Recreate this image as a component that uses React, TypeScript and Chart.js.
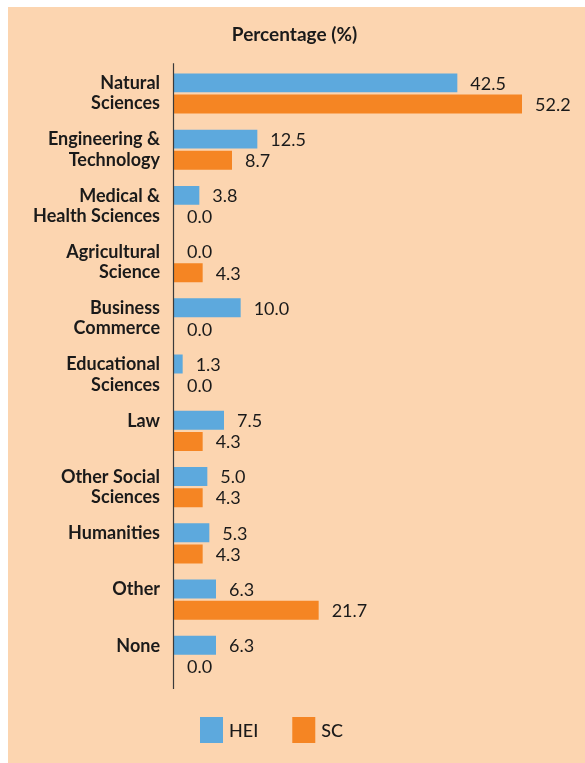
import React, { useEffect, useRef } from "react";
import { Chart, registerables } from "chart.js";

Chart.register(...registerables);

const categories: string[][] = [
  ["Natural", "Sciences"],
  ["Engineering &", "Technology"],
  ["Medical &", "Health Sciences"],
  ["Agricultural", "Science"],
  ["Business", "Commerce"],
  ["Educational", "Sciences"],
  ["Law", ""],
  ["Other Social", "Sciences"],
  ["Humanities", ""],
  ["Other", ""],
  ["None", ""],
];
const heiValues: number[] = [42.5, 12.5, 3.8, 0.0, 10.0, 1.3, 7.5, 5.0, 5.3, 6.3, 6.3];
const scValues: number[] = [52.2, 8.7, 0.0, 4.3, 0.0, 0.0, 4.3, 4.3, 4.3, 21.7, 0.0];
const seriesNames: string[] = ["HEI", "SC"];
const titleText = "Percentage (%)";
const xMax = 60;

const BG = "#FCD5B0";
const BLUE = "#5DA9DD";
const ORANGE = "#F58523";
const TEXT = "#1a1a1a";
const FONT = "Lato, 'Noto Sans', sans-serif";

const valueLabels = {
  id: "valueLabels",
  afterDatasetsDraw(chart: any) {
    const ctx = chart.ctx;
    ctx.save();
    ctx.font = `400 18px ${FONT}`;
    ctx.fillStyle = TEXT;
    ctx.textBaseline = "middle";
    ctx.textAlign = "left";
    chart.data.datasets.forEach((ds: any, i: number) => {
      const meta = chart.getDatasetMeta(i);
      meta.data.forEach((bar: any, j: number) => {
        const v = ds.data[j] as number;
        ctx.fillText(v.toFixed(1), bar.x + 13, bar.y + 1);
      });
    });
    ctx.restore();
  },
};

const axisLine = {
  id: "axisLine",
  afterDatasetsDraw(chart: any) {
    const ctx = chart.ctx;
    const x = chart.scales.x.getPixelForValue(0) - 0.5;
    const { top, bottom } = chart.chartArea;
    ctx.save();
    ctx.strokeStyle = "#3a3a3a";
    ctx.lineWidth = 1.2;
    ctx.beginPath();
    ctx.moveTo(x, top - 2);
    ctx.lineTo(x, bottom + 5);
    ctx.stroke();
    ctx.restore();
  },
};

const customLegend = {
  id: "customLegend",
  afterDraw(chart: any) {
    const ctx = chart.ctx;
    const { left, bottom } = chart.chartArea;
    ctx.save();
    ctx.font = `500 18px ${FONT}`;
    ctx.textBaseline = "middle";
    ctx.textAlign = "left";
    let x = left + 26;
    const y = bottom + 33;
    chart.data.datasets.forEach((ds: any) => {
      ctx.fillStyle = ds.backgroundColor;
      ctx.fillRect(x, y, 23, 26);
      ctx.fillStyle = TEXT;
      ctx.fillText(ds.label, x + 29, y + 14);
      x += 29 + ctx.measureText(ds.label).width + 34;
    });
    ctx.restore();
  },
};

export default function App() {
  const ref = useRef<HTMLCanvasElement | null>(null);

  useEffect(() => {
    if (!ref.current) return;
    const chart = new Chart(ref.current, {
      type: "bar",
      data: {
        labels: categories,
        datasets: [
          { label: seriesNames[0], data: heiValues, backgroundColor: BLUE },
          { label: seriesNames[1], data: scValues, backgroundColor: ORANGE },
        ],
      },
      options: {
        indexAxis: "y",
        responsive: false,
        animation: false,
        devicePixelRatio: 1,
        layout: { padding: { left: 7, right: 11, top: 0, bottom: 79 } },
        datasets: { bar: { categoryPercentage: 0.75, barPercentage: 0.9 } },
        scales: {
          x: { display: false, min: 0, max: xMax },
          y: {
            grid: { display: false, drawTicks: false },
            border: { display: false },
            ticks: {
              padding: 14,
              color: TEXT,
              font: { family: FONT, size: 18, weight: "bold", lineHeight: 1.13 },
            },
            afterFit(scale: any) {
              scale.width = 159;
            },
          },
        },
        plugins: {
          legend: { display: false },
          tooltip: { enabled: false },
          title: {
            display: true,
            text: titleText,
            color: TEXT,
            font: { family: FONT, size: 19, weight: "bold", lineHeight: 1.2 },
            padding: { top: 16.5, bottom: 19 },
          },
        },
      },
      plugins: [valueLabels, axisLine, customLegend],
    });
    return () => chart.destroy();
  }, []);

  return (
    <div
      style={{
        position: "fixed",
        left: 8,
        top: 7,
        width: 577,
        height: 756,
        background: BG,
      }}
    >
      <canvas ref={ref} width={577} height={756} style={{ display: "block" }} />
    </div>
  );
}
